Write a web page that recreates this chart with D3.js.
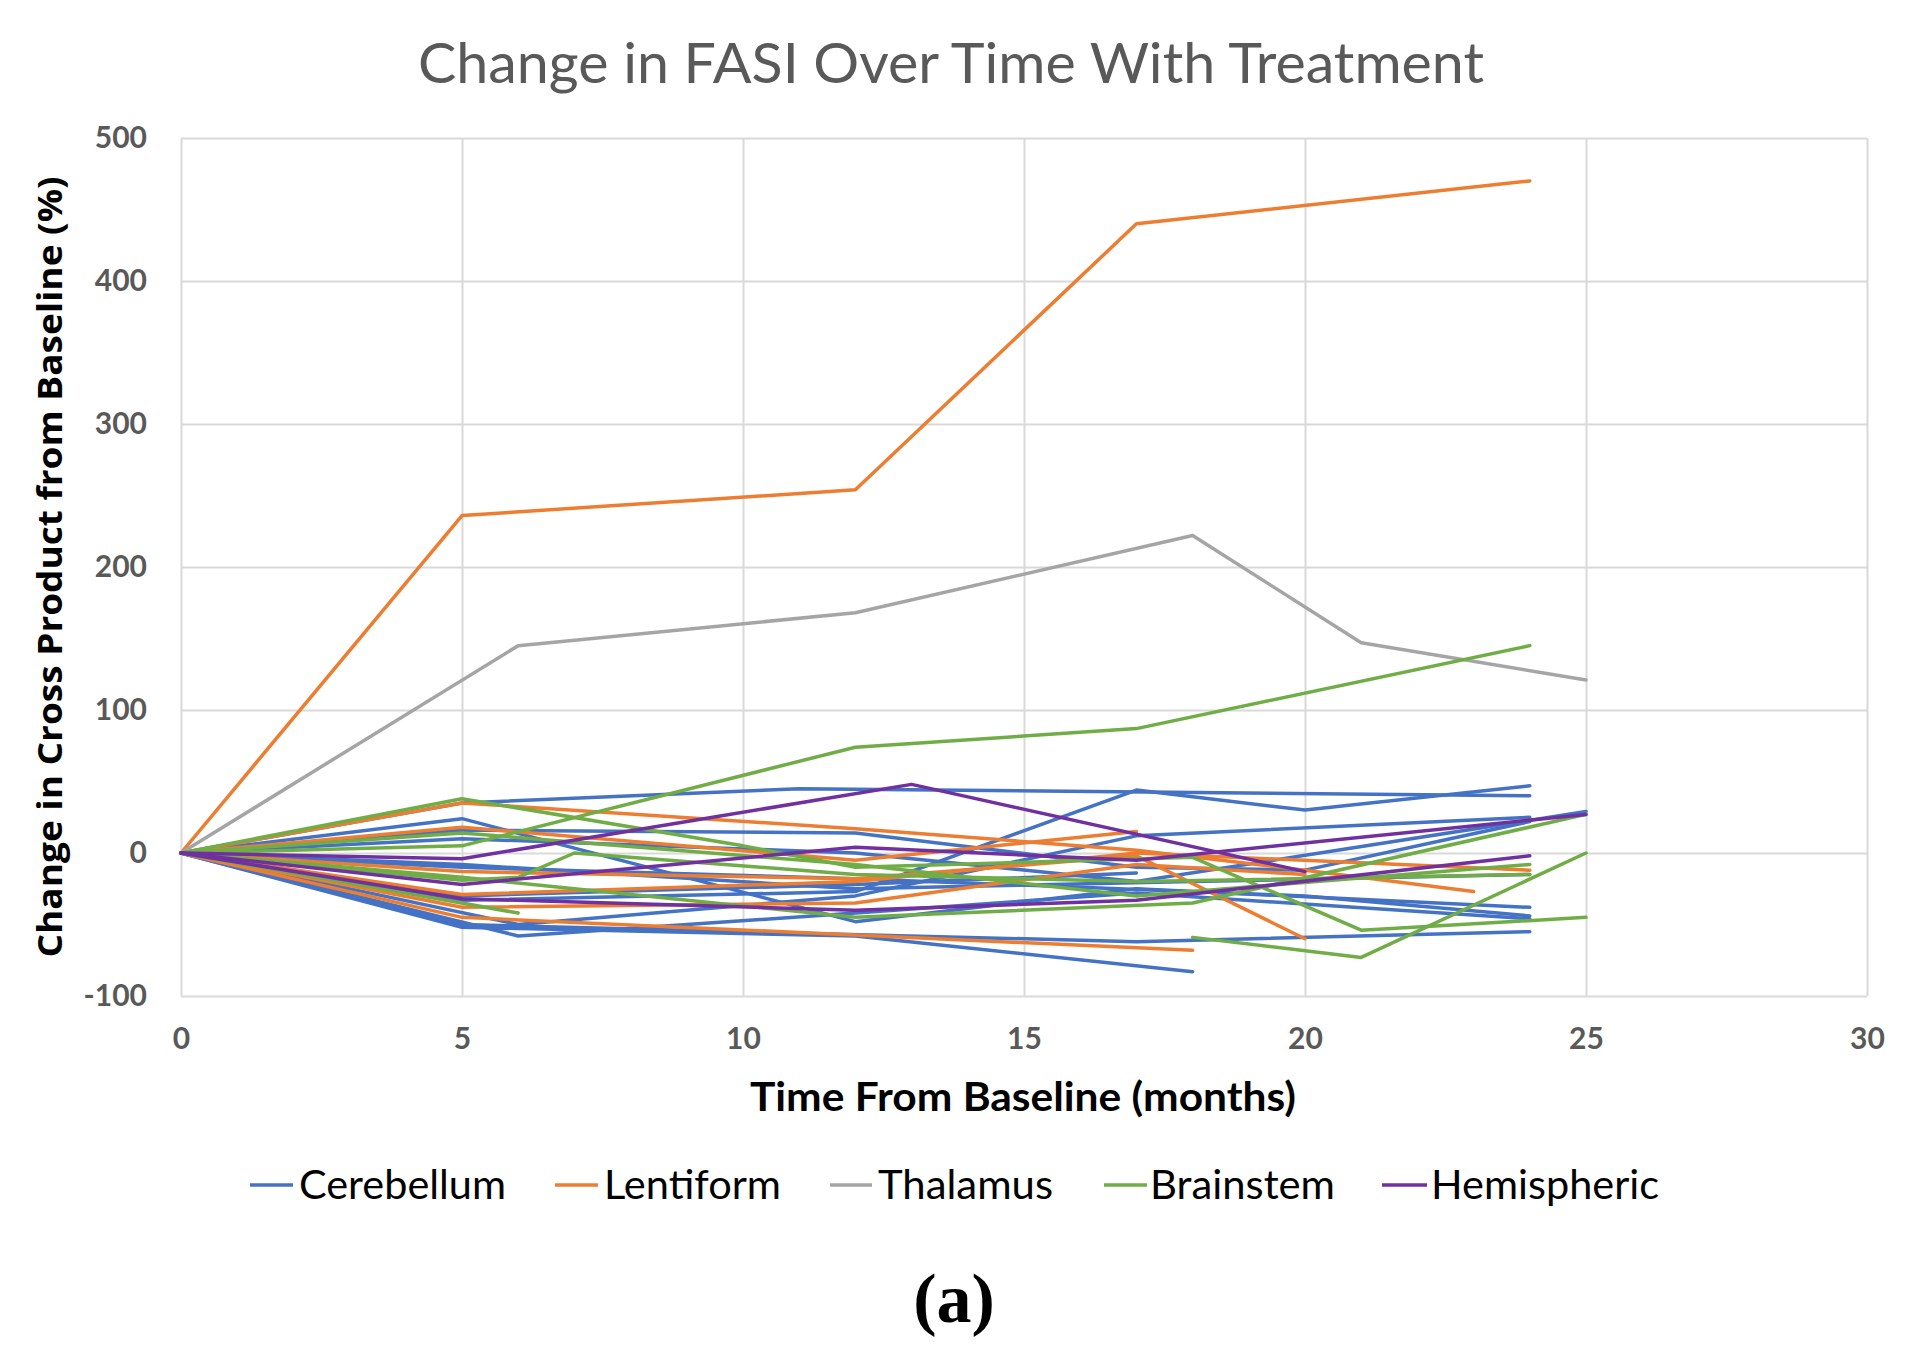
<!DOCTYPE html>
<html>
<head>
<meta charset="utf-8">
<script src="https://cdn.jsdelivr.net/npm/d3@7/dist/d3.min.js"></script>
<style>
  html, body { margin: 0; padding: 0; background: #fff; }
  svg { display: block; }
</style>
</head>
<body>
<svg id="chart" width="1914" height="1362"></svg>
<script>
// ---------------- DATA ----------------
const xTicks = [0, 5, 10, 15, 20, 25, 30];
const yTicks = [-100, 0, 100, 200, 300, 400, 500];

// each line: list of [month, % change]; null value = gap
const cerebellum = [
  [[0,0],[5,35],[11,45],[24,40]],
  [[0,0],[5,24],[12,-48],[17,-25],[24,-38]],
  [[0,0],[5,16],[12,14],[17,-10],[20,-12],[24,22]],
  [[0,0],[6,-58],[12,-42],[17,-28],[24,-46]],
  [[0,0],[5,-52],[12,-58],[18,-83]],
  [[0,0],[5,-50],[17,-62],[24,-55]],
  [[0,0],[5,-33],[12,-27],[17,44],[20,30],[24,47]],
  [[0,0],[6,-50],[12,-30],[17,12],[24,25]],
  [[0,0],[5,-8],[12,-25],[18,-20],[24,-15]],
  [[0,0],[5,10],[12,0],[17,-20],[25,29]],
  [[0,0],[5,-30],[12,-22],[17,-14]],
  [[0,0],[5,-10],[12,-18],[20,-30],[24,-44]]
];
const lentiform = [
  [[0,0],[5,236],[12,254],[17,440],[24,470]],
  [[0,0],[5,35],[12,17],[17,2],[20,-12],[23,-27]],
  [[0,0],[5,-13],[12,-18],[17,-2],[20,-60]],
  [[0,0],[5,-45],[18,-68]],
  [[0,0],[5,18],[12,-5],[17,15]],
  [[0,0],[5,-29],[12,-20],[17,0],[24,-12]],
  [[0,0],[5,-38],[12,-35],[17,-8],[20,-15]]
];
const thalamus = [
  [[0,0],[6,145],[12,168],[18,222],[21,147],[25,121]]
];
const brainstem = [
  [[0,0],[5,5],[12,74],[17,87],[24,145]],
  [[0,0],[5,38],[10,5],[12,-10],[18,-3],[21,-54],[25,-45]],
  [[0,0],[6,-42],[12,null],[18,-59],[21,-73],[25,0]],
  [[0,0],[5,-17],[12,-45],[18,-35],[25,27]],
  [[0,0],[5,14],[12,-8],[17,-30],[24,-8]],
  [[0,0],[5,-19],[6,-17],[7,0],[12,-15],[17,-20],[24,-15]]
];
const hemispheric = [
  [[0,0],[5,-4],[13,48],[20,-13]],
  [[0,0],[5,-22],[12,4],[17,-5],[25,27]],
  [[0,0],[5,-32],[12,-40],[17,-33],[24,-2]]
];

const seriesNames = ["Cerebellum", "Lentiform", "Thalamus", "Brainstem", "Hemispheric"];
const seriesColors = ["#4472C4", "#ED7D31", "#A5A5A5", "#70AD47", "#7030A0"];
const seriesData = [cerebellum, lentiform, thalamus, brainstem, hemispheric];

// ---------------- LAYOUT ----------------
const svg = d3.select("#chart");
const plot = { left: 181, right: 1867, top: 138, bottom: 996 };

const x = d3.scaleLinear().domain([0, 30]).range([plot.left, plot.right]);
const y = d3.scaleLinear().domain([-100, 500]).range([plot.bottom, plot.top]);

// Title
svg.append("text")
  .attr("x", 951).attr("y", 83)
  .attr("text-anchor", "middle")
  .attr("font-family", "Lato, 'Open Sans', sans-serif")
  .attr("font-size", 56)
  .attr("fill", "#595959")
  .attr("textLength", 1066).attr("lengthAdjust", "spacingAndGlyphs")
  .text("Change in FASI Over Time With Treatment");

// Grid + axes
const yAxis = d3.axisLeft(y).tickValues(yTicks).tickFormat(d => String(d))
  .tickSize(-(plot.right - plot.left)).tickPadding(34);
const gy = svg.append("g").attr("transform", `translate(${plot.left},0)`).call(yAxis);
gy.select(".domain").remove();
gy.selectAll(".tick line").attr("stroke", "#D9D9D9").attr("stroke-width", 2);
gy.selectAll(".tick text")
  .attr("font-family", "Lato, sans-serif").attr("font-weight", "bold")
  .attr("font-size", 30).attr("fill", "#595959");

const xAxis = d3.axisBottom(x).tickValues(xTicks).tickFormat(d => String(d))
  .tickSize(-(plot.bottom - plot.top)).tickPadding(32);
const gx = svg.append("g").attr("transform", `translate(0,${plot.bottom})`).call(xAxis);
gx.select(".domain").remove();
gx.selectAll(".tick line").attr("stroke", "#D9D9D9").attr("stroke-width", 2);
gx.selectAll(".tick text")
  .attr("font-family", "Lato, sans-serif").attr("font-weight", "bold")
  .attr("font-size", 30).attr("fill", "#595959");

// Axis titles
svg.append("text")
  .attr("transform", "translate(62,567) rotate(-90)")
  .attr("text-anchor", "middle")
  .attr("font-family", "'Open Sans', sans-serif").attr("font-weight", "bold")
  .attr("font-size", 34).attr("fill", "#000")
  .attr("textLength", 781).attr("lengthAdjust", "spacingAndGlyphs")
  .text("Change in Cross Product from Baseline (%)");

svg.append("text")
  .attr("x", 1023).attr("y", 1111)
  .attr("text-anchor", "middle")
  .attr("font-family", "Lato, sans-serif").attr("font-weight", "bold")
  .attr("font-size", 40).attr("fill", "#000")
  .attr("textLength", 546).attr("lengthAdjust", "spacingAndGlyphs")
  .text("Time From Baseline (months)");

// Lines
const line = d3.line()
  .defined(d => d[1] !== null)
  .x(d => x(d[0]))
  .y(d => y(d[1]));

const gLines = svg.append("g").attr("fill", "none").attr("stroke-linejoin", "round").attr("stroke-linecap", "round");
seriesData.forEach((group, i) => {
  gLines.selectAll(null).data(group).enter().append("path")
    .attr("d", line)
    .attr("stroke", seriesColors[i])
    .attr("stroke-width", 3.5);
});

// Legend
const legendItems = [
  { lx: 250, lw: 43, tx: 299, tw: 207 },
  { lx: 555, lw: 43, tx: 604, tw: 177 },
  { lx: 830, lw: 42, tx: 878, tw: 175 },
  { lx: 1104, lw: 43, tx: 1150, tw: 185 },
  { lx: 1382, lw: 45, tx: 1431, tw: 228 }
];
const gLeg = svg.append("g");
legendItems.forEach((it, i) => {
  gLeg.append("line")
    .attr("x1", it.lx).attr("x2", it.lx + it.lw)
    .attr("y1", 1185).attr("y2", 1185)
    .attr("stroke", seriesColors[i]).attr("stroke-width", 3.5);
  gLeg.append("text")
    .attr("x", it.tx).attr("y", 1199)
    .attr("font-family", "Lato, sans-serif")
    .attr("font-size", 40).attr("fill", "#000")
    .attr("textLength", it.tw).attr("lengthAdjust", "spacingAndGlyphs")
    .text(seriesNames[i]);
});

// Panel label
svg.append("text")
  .attr("x", 954).attr("y", 1322)
  .attr("text-anchor", "middle")
  .attr("font-family", "'Liberation Serif', 'Times New Roman', serif").attr("font-weight", "bold")
  .attr("font-size", 70).attr("fill", "#000")
  .text("(a)");
</script>
</body>
</html>
